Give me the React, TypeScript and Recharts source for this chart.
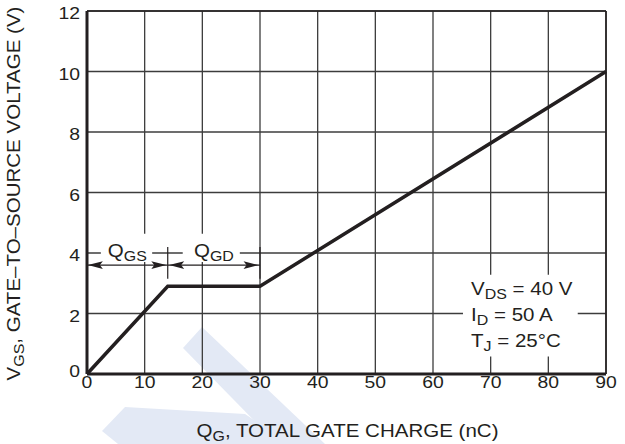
import {
  LineChart,
  Line,
  XAxis,
  YAxis,
  CartesianGrid,
  ReferenceLine,
  ReferenceArea,
  ReferenceDot,
} from "recharts";

// gate charge curve: linear rise, Miller plateau, then the final slope
const gateCharge = [0, 14, 30, 90]; // nC
const gateVoltage = [0, 2.9, 2.9, 10]; // V

const chargeTicks = [0, 10, 20, 30, 40, 50, 60, 70, 80, 90];
const voltageTicks = [0, 2, 4, 6, 8, 10, 12];

// Q_GS / Q_GD bracket limits (nC) and the level the brackets sit at (V)
const qgsStart = 0;
const qgsEnd = 14;
const qgdEnd = 30;
const bracketLevel = 3.6;

const testConditions = [
  { symbol: "V", sub: "DS", value: " = 40 V" },
  { symbol: "I", sub: "D", value: " = 50 A" },
  { symbol: "T", sub: "J", value: " = 25°C" },
];

const data = gateCharge.map((q, i) => ({ q, vgs: gateVoltage[i] }));

const FONT = '"Liberation Sans", Arial, Helvetica, sans-serif';
const INK = "#231f20";
const GRID = "#3c3c3c";
// datasheet lettering is a little wider than plain Arial
const SX = 1.14;

function Txt({ x, y, rotate = 0, anchor = "start", size = 18, children }: any) {
  return (
    <text
      transform={`translate(${x},${y}) rotate(${rotate}) scale(${SX},1)`}
      textAnchor={anchor}
      fontFamily={FONT}
      fontSize={size}
      fill={INK}
    >
      {children}
    </text>
  );
}

function XTick({ x, y, payload }: any) {
  return (
    <Txt x={x} y={y + 14} anchor="middle" size={17}>
      {payload.value}
    </Txt>
  );
}

function YTick({ x, y, payload }: any) {
  const lift = payload.value === 0 ? 5 : 0;
  return (
    <Txt x={x - 7} y={y + 8 - lift} anchor="end" size={17}>
      {payload.value}
    </Txt>
  );
}

function SubText({ x, y, main, sub, rest, anchor, rotate = 0 }: any) {
  return (
    <Txt x={x} y={y} anchor={anchor} rotate={rotate}>
      {main}
      <tspan dy={4} fontSize={14}>
        {sub}
      </tspan>
      <tspan dy={-4}>{rest}</tspan>
    </Txt>
  );
}

function ArrowHead({ cx, cy, dir }: any) {
  const len = 15;
  const half = 3.8;
  const bx = cx - dir * len;
  return (
    <path
      d={`M${cx},${cy} L${bx},${cy - half} L${bx + dir * 3},${cy} L${bx},${cy + half} Z`}
      fill={INK}
    />
  );
}

function XTitle({ viewBox }: any) {
  const cx = viewBox.x + viewBox.width / 2 + 1;
  return (
    <SubText x={cx} y={viewBox.y + 63} main="Q" sub="G" rest=", TOTAL GATE CHARGE (nC)" anchor="middle" />
  );
}

function YTitle({ viewBox }: any) {
  const cy = viewBox.y + viewBox.height / 2 + 1;
  return (
    <SubText x={20} y={cy} rotate={-90} main="V" sub="GS" rest=", GATE–TO–SOURCE VOLTAGE (V)" anchor="middle" />
  );
}

// faint logo shape sitting behind the plot
function Watermark() {
  return (
    <svg width={625} height={444} style={{ position: "absolute", left: 0, top: 0 }}>
      <polygon points="183,348 202,327 325,444 277,444" fill="#e3e9f5" />
      <polygon points="102,431 125,407 245,414 290,444 118,444" fill="#e3e9f5" />
    </svg>
  );
}

export default function App() {
  return (
    <div style={{ position: "absolute", left: 0, top: 0, width: 625, height: 444, background: "#fff" }}>
      <Watermark />
      <div style={{ position: "absolute", left: 0, top: 0 }}>
        <LineChart
          width={625}
          height={444}
          data={data}
          margin={{ top: 11, right: 19, bottom: 40, left: 0 }}
        >
          <CartesianGrid stroke={GRID} strokeWidth={1.3} />
          <XAxis
            type="number"
            dataKey="q"
            domain={[0, 90]}
            ticks={chargeTicks}
            height={30}
            tickLine={false}
            tickSize={0}
            tickMargin={0}
            tick={<XTick />}
            axisLine={{ stroke: INK, strokeWidth: 3 }}
            label={{ content: <XTitle /> }}
          />
          <YAxis
            type="number"
            domain={[0, 12]}
            ticks={voltageTicks}
            width={87}
            tickLine={false}
            tickSize={0}
            tickMargin={0}
            tick={<YTick />}
            axisLine={{ stroke: INK, strokeWidth: 3 }}
            label={{ content: <YTitle /> }}
          />

          {/* frame on the top and right */}
          <ReferenceLine y={12} stroke={INK} strokeWidth={1.6} />
          <ReferenceLine x={90} stroke={INK} strokeWidth={1.6} />

          {/* white backing behind the annotations */}
          <ReferenceArea x1={2.4} x2={11.3} y1={3.7} y2={4.64} fill="#fff" fillOpacity={1} stroke="none" />
          <ReferenceArea x1={16.6} x2={26.5} y1={3.7} y2={4.64} fill="#fff" fillOpacity={1} stroke="none" />
          <ReferenceArea x1={65.2} x2={85.1} y1={0.58} y2={3.28} fill="#fff" fillOpacity={1} stroke="none" />

          {/* Q_GS / Q_GD brackets */}
          <ReferenceLine
            segment={[{ x: qgsStart, y: bracketLevel }, { x: qgsEnd, y: bracketLevel }]}
            stroke={INK}
            strokeWidth={1.2}
          />
          <ReferenceLine
            segment={[{ x: qgsEnd, y: bracketLevel }, { x: qgdEnd, y: bracketLevel }]}
            stroke={INK}
            strokeWidth={1.2}
          />
          <ReferenceLine
            segment={[{ x: qgsEnd, y: 3.15 }, { x: qgsEnd, y: 4.2 }]}
            stroke={INK}
            strokeWidth={1.2}
          />
          <ReferenceLine
            segment={[{ x: qgdEnd, y: 3.15 }, { x: qgdEnd, y: 4.2 }]}
            stroke={INK}
            strokeWidth={1.2}
          />

          <Line
            type="linear"
            dataKey="vgs"
            stroke={INK}
            strokeWidth={3.5}
            strokeLinejoin="miter"
            dot={false}
            activeDot={false}
            isAnimationActive={false}
          />

          <ReferenceDot x={qgsStart + 0.15} y={bracketLevel} r={1} shape={(p: any) => <ArrowHead cx={p.cx} cy={p.cy} dir={-1} />} />
          <ReferenceDot x={qgsEnd - 0.25} y={bracketLevel} r={1} shape={(p: any) => <ArrowHead cx={p.cx} cy={p.cy} dir={1} />} />
          <ReferenceDot x={qgsEnd + 0.25} y={bracketLevel} r={1} shape={(p: any) => <ArrowHead cx={p.cx} cy={p.cy} dir={-1} />} />
          <ReferenceDot x={qgdEnd - 0.25} y={bracketLevel} r={1} shape={(p: any) => <ArrowHead cx={p.cx} cy={p.cy} dir={1} />} />

          <ReferenceDot
            x={(qgsStart + qgsEnd) / 2}
            y={3.88}
            r={1}
            shape={(p: any) => <SubText x={p.cx} y={p.cy} main="Q" sub="GS" rest="" anchor="middle" />}
          />
          <ReferenceDot
            x={(qgsEnd + qgdEnd) / 2}
            y={3.88}
            r={1}
            shape={(p: any) => <SubText x={p.cx} y={p.cy} main="Q" sub="GD" rest="" anchor="middle" />}
          />

          <ReferenceDot
            x={66.6}
            y={2.62}
            r={1}
            shape={(p: any) => (
              <g>
                {testConditions.map((c, i) => (
                  <SubText
                    key={c.symbol}
                    x={p.cx}
                    y={p.cy + i * 26}
                    main={c.symbol}
                    sub={c.sub}
                    rest={c.value}
                    anchor="start"
                  />
                ))}
              </g>
            )}
          />
        </LineChart>
      </div>
    </div>
  );
}
